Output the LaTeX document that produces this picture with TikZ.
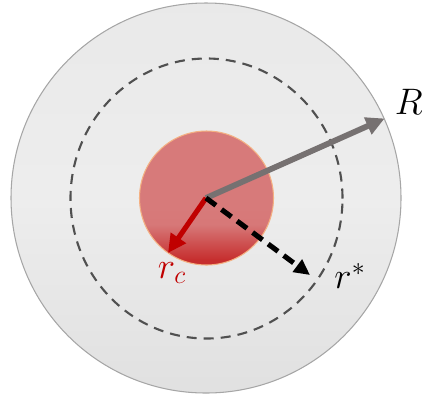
\documentclass[tikz,border=0pt]{standalone}
\usepackage{fix-cm}
\usetikzlibrary{arrows.meta,shapes.geometric}
\definecolor{RCShell}{HTML}{A6A6A6}
\definecolor{RCCore}{HTML}{D77A7A}
\definecolor{RCCoreLow}{HTML}{C62E2E}
\definecolor{RCEdge}{HTML}{F4B183}
\definecolor{RCRed}{HTML}{C00000}
\definecolor{RCArrow}{HTML}{767171}
\definecolor{RCDash}{HTML}{505050}
\pgfdeclareverticalshading{corefill}{100bp}{color(0bp)=(RCCoreLow); color(27bp)=(RCCoreLow);
  color(40bp)=(RCCore!97!RCCoreLow); color(47bp)=(RCCore); color(100bp)=(RCCore)}
\pgfdeclareverticalshading{shellfill}{100bp}{color(0bp)=(gray!24); color(25bp)=(gray!24);
  color(50bp)=(gray!14); color(75bp)=(gray!17); color(100bp)=(gray!17)}
\tikzset{
  lbl/.style={font=\fontsize{21}{24}\selectfont,inner sep=0pt},
  radius arrow/.style={line width=#1,-{Triangle[length=10.5pt,width=10pt]}}
}

\begin{document}
\begin{tikzpicture}[x=0.02cm,y=-0.02cm]
\path[use as bounding box] (0,0) rectangle (425,400);
\coordinate (c) at (206,198);
% shell, capture radius, core
\node[circle,draw=RCShell,line width=0.6pt,minimum size=390*0.02cm,inner sep=0pt,
  shading=shellfill] (shell) at (c) {};
\node[ellipse,draw=RCDash,line width=1.2pt,dash pattern=on 5.7pt off 4pt,
  minimum width=272*0.02cm,minimum height=280*0.02cm,inner sep=0pt] (capture) at (206.5,198.5) {};
\node[circle,draw=RCEdge,line width=0.6pt,minimum size=134*0.02cm,inner sep=0pt,
  shading=corefill] (core) at (206.5,198) {};
% radii
\coordinate (tipR) at (shell.24);
\coordinate (tipC) at (168,253);
\coordinate (tipS) at (310,275);
\draw[radius arrow=3.3pt,RCArrow] (c) -- (tipR);
\draw[radius arrow=2.9pt,RCRed] (c) -- (tipC);
\draw[line width=2.9pt,black,dash pattern=on 7pt off 4pt,
  -{Triangle[length=9pt,width=8.5pt]}] (c) -- (tipS);
% labels
\node[lbl,anchor=east] (labR) at (423,102) {$R$};
\node[lbl,RCRed] (labC) at (172,273) {$r_c$};
\node[lbl] (labS) at (350,276) {$r^{\ast}$};
\end{tikzpicture}
\end{document}
